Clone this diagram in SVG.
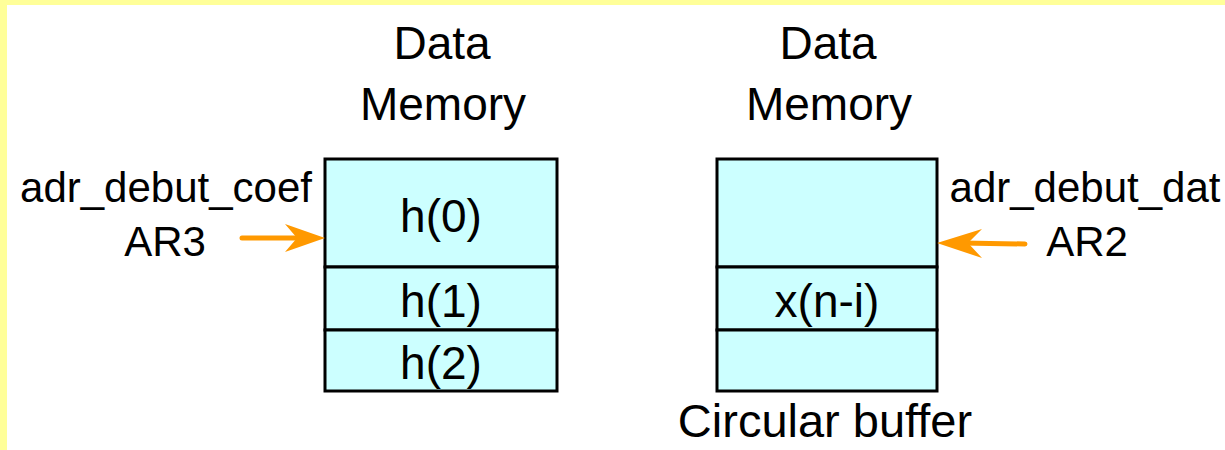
<svg xmlns="http://www.w3.org/2000/svg" width="1225" height="450" viewBox="0 0 1225 450">
  <style>
    text { font-family: "Liberation Sans", Arial, sans-serif; fill: #000; text-anchor: middle; }
    .big { font-size: 46px; }
    .lbl { font-size: 42px; }
    .cap { font-size: 47px; }
    .cell { fill: #CCFFFF; stroke: #000; stroke-width: 3; }
    .arrow { stroke: #FF9900; stroke-width: 5; stroke-linecap: round; fill: none; }
    .head { fill: #FF9900; }
  </style>
  <rect x="0" y="0" width="1225" height="450" fill="#FFFFFF"/>
  <rect x="0" y="0" width="1225" height="5" fill="#FFFF99"/>
  <rect x="0" y="0" width="7" height="450" fill="#FFFF99"/>

  <g id="coef-memory">
    <text class="big" x="442" y="59">Data</text>
    <text class="big" x="443" y="120">Memory</text>
    <rect class="cell" x="325" y="159" width="232" height="108"/>
    <rect class="cell" x="325" y="267" width="232" height="63"/>
    <rect class="cell" x="325" y="330" width="232" height="61"/>
    <text class="big" x="441" y="232">h(0)</text>
    <text class="big" x="441" y="317">h(1)</text>
    <text class="big" x="441" y="379">h(2)</text>
  </g>

  <g id="data-memory">
    <text class="big" x="828" y="59">Data</text>
    <text class="big" x="829" y="120">Memory</text>
    <rect class="cell" x="717" y="159" width="220" height="108"/>
    <rect class="cell" x="717" y="267" width="220" height="63"/>
    <rect class="cell" x="717" y="330" width="220" height="61"/>
    <text class="big" x="827" y="317">x(n-i)</text>
    <text class="cap" x="825" y="437">Circular buffer</text>
  </g>

  <g id="label-coef">
    <text class="lbl" x="166" y="202">adr_debut_coef</text>
    <text class="lbl" x="165" y="256">AR3</text>
  </g>

  <g id="label-dat">
    <text class="lbl" x="1085" y="202">adr_debut_dat</text>
    <text class="lbl" x="1087" y="256">AR2</text>
  </g>

  <g id="connectors">
    <line class="arrow" x1="242" y1="238" x2="300" y2="238"/>
    <polygon class="head" points="325,238 285,224 297,238 285,252"/>
    <line class="arrow" x1="1025" y1="244" x2="962" y2="243"/>
    <polygon class="head" points="937,243 982,229 968,243 982,258"/>
  </g>
</svg>
